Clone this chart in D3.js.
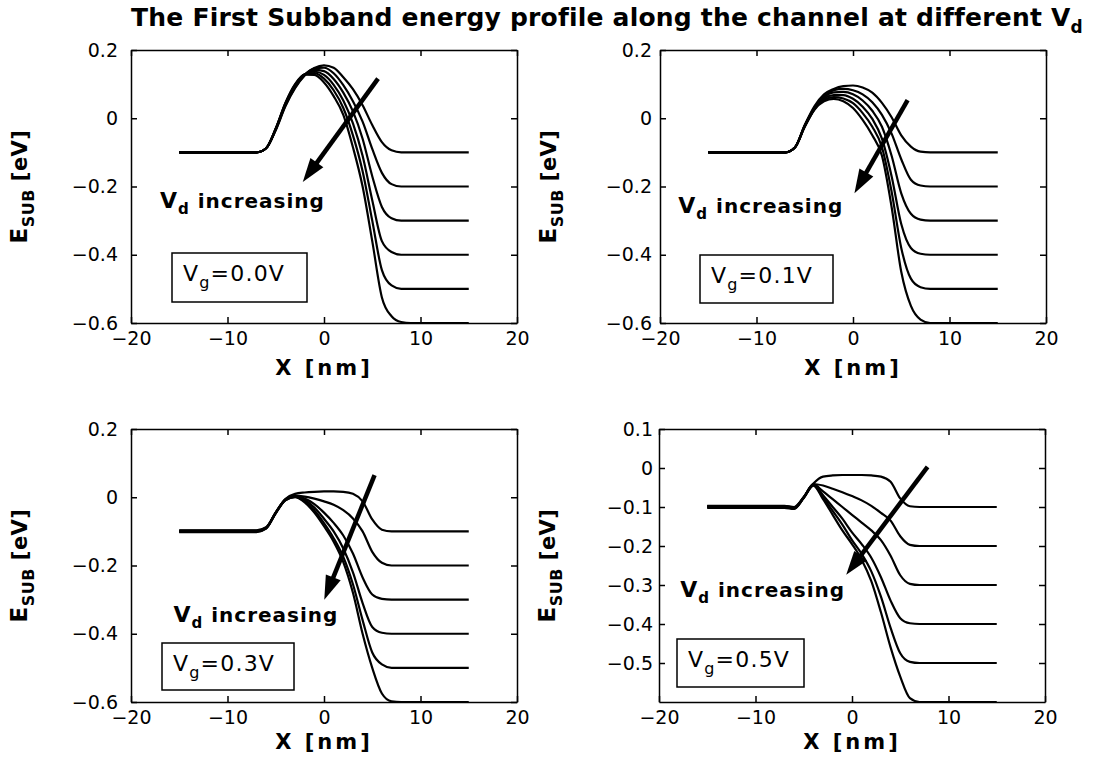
<!DOCTYPE html>
<html>
<head>
<meta charset="utf-8">
<script src="https://cdn.jsdelivr.net/npm/d3@7"></script>
<style>
  body { margin: 0; background: #fff; }
  svg { display: block; }
  .axis path, .axis line { stroke: #000; stroke-width: 1.5; }
  .axis text { font-family: "DejaVu Sans", sans-serif; font-size: 19px; fill: #000; }
</style>
</head>
<body>
<svg id="chart"></svg>
<script>
// positions along the channel (nm), shared by every curve
var xGrid = [-15, -7, -6, -5, -4, -3, -2, -1, 0, 1, 2, 3, 4, 5, 6, 7, 8, 9, 15];
var vdValues = [0.0, 0.1, 0.2, 0.3, 0.4, 0.5];
var vgLabels = ["0.0", "0.1", "0.3", "0.5"];

// first subband energy (eV), one row per Vd, Vg = 0.0 V
var esubVg00 = [
  [-0.1, -0.1, -0.088, -0.035, 0.035, 0.088, 0.125, 0.147, 0.155, 0.148, 0.12, 0.085, 0.038, -0.02, -0.07, -0.094, -0.1, -0.1, -0.1],
  [-0.1, -0.1, -0.088, -0.033, 0.037, 0.09, 0.127, 0.146, 0.148, 0.132, 0.097, 0.05, -0.01, -0.09, -0.16, -0.193, -0.2, -0.2, -0.2],
  [-0.1, -0.1, -0.088, -0.032, 0.04, 0.093, 0.128, 0.142, 0.138, 0.115, 0.075, 0.02, -0.06, -0.17, -0.26, -0.293, -0.3, -0.3, -0.3],
  [-0.1, -0.1, -0.088, -0.031, 0.042, 0.096, 0.129, 0.137, 0.127, 0.098, 0.052, -0.015, -0.11, -0.24, -0.36, -0.392, -0.4, -0.4, -0.4],
  [-0.1, -0.1, -0.088, -0.03, 0.044, 0.098, 0.129, 0.132, 0.116, 0.082, 0.03, -0.05, -0.155, -0.3, -0.445, -0.49, -0.5, -0.5, -0.5],
  [-0.1, -0.1, -0.088, -0.03, 0.045, 0.1, 0.128, 0.127, 0.105, 0.065, 0.01, -0.085, -0.2, -0.36, -0.525, -0.58, -0.597, -0.6, -0.6]
];
// Vg = 0.1 V
var esubVg01 = [
  [-0.1, -0.1, -0.085, -0.02, 0.035, 0.07, 0.086, 0.094, 0.096, 0.09, 0.075, 0.045, 0.003, -0.05, -0.083, -0.098, -0.1, -0.1, -0.1],
  [-0.1, -0.1, -0.085, -0.021, 0.031, 0.065, 0.082, 0.086, 0.082, 0.07, 0.047, 0.01, -0.045, -0.12, -0.18, -0.197, -0.2, -0.2, -0.2],
  [-0.1, -0.1, -0.085, -0.022, 0.028, 0.062, 0.076, 0.077, 0.07, 0.052, 0.022, -0.025, -0.11, -0.22, -0.28, -0.297, -0.3, -0.3, -0.3],
  [-0.1, -0.1, -0.085, -0.023, 0.027, 0.058, 0.068, 0.068, 0.057, 0.034, -0.002, -0.06, -0.17, -0.31, -0.38, -0.397, -0.4, -0.4, -0.4],
  [-0.1, -0.1, -0.085, -0.024, 0.026, 0.054, 0.062, 0.058, 0.044, 0.015, -0.025, -0.085, -0.215, -0.38, -0.47, -0.495, -0.5, -0.5, -0.5],
  [-0.1, -0.1, -0.085, -0.025, 0.025, 0.05, 0.057, 0.05, 0.03, -0.005, -0.05, -0.11, -0.26, -0.45, -0.55, -0.59, -0.6, -0.6, -0.6]
];
// Vg = 0.3 V
var esubVg03 = [
  [-0.097, -0.097, -0.088, -0.044, -0.005, 0.01, 0.014, 0.016, 0.017, 0.017, 0.016, 0.01, -0.012, -0.065, -0.095, -0.1, -0.1, -0.1, -0.1],
  [-0.098, -0.098, -0.089, -0.045, -0.006, 0.005, 0.002, -0.004, -0.012, -0.022, -0.038, -0.062, -0.1, -0.16, -0.192, -0.2, -0.2, -0.2, -0.2],
  [-0.099, -0.099, -0.09, -0.045, -0.007, 0.003, -0.004, -0.02, -0.045, -0.075, -0.112, -0.165, -0.235, -0.285, -0.298, -0.3, -0.3, -0.3, -0.3],
  [-0.1, -0.1, -0.09, -0.046, -0.008, 0.002, -0.008, -0.03, -0.063, -0.1, -0.15, -0.22, -0.31, -0.38, -0.397, -0.4, -0.4, -0.4, -0.4],
  [-0.101, -0.101, -0.091, -0.046, -0.008, 0.001, -0.012, -0.038, -0.076, -0.12, -0.175, -0.255, -0.36, -0.455, -0.49, -0.5, -0.5, -0.5, -0.5],
  [-0.102, -0.102, -0.092, -0.047, -0.009, 0.0, -0.015, -0.045, -0.085, -0.13, -0.19, -0.28, -0.4, -0.5, -0.575, -0.598, -0.6, -0.6, -0.6]
];
// Vg = 0.5 V
var esubVg05 = [
  [-0.097, -0.097, -0.1, -0.074, -0.04, -0.022, -0.019, -0.018, -0.018, -0.018, -0.019, -0.022, -0.035, -0.078, -0.098, -0.1, -0.1, -0.1, -0.1],
  [-0.098, -0.098, -0.101, -0.075, -0.041, -0.045, -0.053, -0.062, -0.072, -0.083, -0.097, -0.115, -0.135, -0.175, -0.197, -0.2, -0.2, -0.2, -0.2],
  [-0.099, -0.099, -0.102, -0.075, -0.042, -0.06, -0.08, -0.1, -0.12, -0.14, -0.16, -0.185, -0.225, -0.275, -0.297, -0.3, -0.3, -0.3, -0.3],
  [-0.1, -0.1, -0.103, -0.076, -0.043, -0.07, -0.1, -0.13, -0.165, -0.195, -0.23, -0.28, -0.34, -0.385, -0.398, -0.4, -0.4, -0.4, -0.4],
  [-0.101, -0.101, -0.104, -0.076, -0.044, -0.075, -0.11, -0.145, -0.185, -0.22, -0.265, -0.33, -0.41, -0.475, -0.497, -0.5, -0.5, -0.5, -0.5],
  [-0.102, -0.102, -0.105, -0.077, -0.045, -0.08, -0.12, -0.16, -0.195, -0.235, -0.29, -0.37, -0.46, -0.535, -0.59, -0.6, -0.6, -0.6, -0.6]
];

var xTicks = [-20, -10, 0, 10, 20];
var xTickLabels = ["\u221220", "\u221210", "0", "10", "20"];
var yTicksA = [0.2, 0, -0.2, -0.4, -0.6];
var yTickLabelsA = ["0.2", "0", "\u22120.2", "\u22120.4", "\u22120.6"];
var yTicksB = [0.1, 0, -0.1, -0.2, -0.3, -0.4, -0.5];
var yTickLabelsB = ["0.1", "0", "\u22120.1", "\u22120.2", "\u22120.3", "\u22120.4", "\u22120.5"];

var width = 1097, height = 764;
var plotW = 386, plotH = 273;

// layout of the four subplots and their annotations
var panels = [
  {curves: esubVg00, vg: vgLabels[0], left: 131, top: 50, yDomain: [-0.6, 0.2], yTicks: yTicksA, yLabels: yTickLabelsA,
   tickPad: 13, xLabelDy: 52, arrowFrom: [5.6, 0.116], arrowTo: [-2.2, -0.187], note: [-17.0, -0.264], box: [41, 203, 135, 49]},
  {curves: esubVg01, vg: vgLabels[1], left: 660, top: 50, yDomain: [-0.6, 0.2], yTicks: yTicksA, yLabels: yTickLabelsA,
   tickPad: 8, xLabelDy: 52, arrowFrom: [5.66, 0.053], arrowTo: [0.15, -0.22], note: [-18.1, -0.278], box: [40, 205, 133, 48]},
  {curves: esubVg03, vg: vgLabels[2], left: 131, top: 429, yDomain: [-0.6, 0.2], yTicks: yTicksA, yLabels: yTickLabelsA,
   tickPad: 13, xLabelDy: 47, arrowFrom: [5.24, 0.065], arrowTo: [0.03, -0.30], note: [-15.6, -0.365], box: [31, 214, 132, 47]},
  {curves: esubVg05, vg: vgLabels[3], left: 659, top: 429, yDomain: [-0.6, 0.1], yTicks: yTicksB, yLabels: yTickLabelsB,
   tickPad: 6, xLabelDy: 47, arrowFrom: [7.83, 0.003], arrowTo: [-0.6, -0.274], note: [-17.8, -0.33], box: [18, 210, 127, 48]}
];

var svg = d3.select('#chart')
    .attr('width', width)
    .attr('height', height);

svg.append('rect').attr('width', width).attr('height', height).attr('fill', '#fff');

var boldFont = '"DejaVu Sans", sans-serif';

panels.forEach(function(p) {
  var g = svg.append('g').attr('transform', 'translate(' + p.left + ',' + p.top + ')');

  var x = d3.scaleLinear().domain([-20, 20]).range([0, plotW]);
  var y = d3.scaleLinear().domain(p.yDomain).range([plotH, 0]);

  // axes, ticks pointing inward on all four sides (box on)
  g.append('g').attr('class', 'axis')
    .attr('transform', 'translate(0,' + plotH + ')')
    .call(d3.axisBottom(x).tickValues(xTicks)
      .tickFormat(function(d, i) { return xTickLabels[i]; })
      .tickSizeInner(-6).tickSizeOuter(0).tickPadding(9));
  g.append('g').attr('class', 'axis')
    .call(d3.axisTop(x).tickValues(xTicks).tickFormat(function() { return ''; })
      .tickSizeInner(-6).tickSizeOuter(0));
  g.append('g').attr('class', 'axis')
    .call(d3.axisLeft(y).tickValues(p.yTicks)
      .tickFormat(function(d, i) { return p.yLabels[i]; })
      .tickSizeInner(-6).tickSizeOuter(0).tickPadding(p.tickPad));
  g.append('g').attr('class', 'axis')
    .attr('transform', 'translate(' + plotW + ',0)')
    .call(d3.axisRight(y).tickValues(p.yTicks).tickFormat(function() { return ''; })
      .tickSizeInner(-6).tickSizeOuter(0));

  // subband curves, one per Vd
  var line = d3.line()
    .x(function(d, i) { return x(xGrid[i]); })
    .y(function(d) { return y(d); })
    .curve(d3.curveMonotoneX);

  g.selectAll('path.curve')
    .data(p.curves)
    .enter()
    .append('path')
    .attr('class', 'curve')
    .attr('d', line)
    .attr('fill', 'none')
    .attr('stroke', '#000')
    .attr('stroke-width', 2.2);

  // "Vd increasing" arrow
  var x0 = x(p.arrowFrom[0]), y0 = y(p.arrowFrom[1]);
  var x1 = x(p.arrowTo[0]), y1 = y(p.arrowTo[1]);
  var ang = Math.atan2(y1 - y0, x1 - x0), headLen = 24, headW = 8;
  var c = Math.cos(ang), s = Math.sin(ang);
  var bx = x1 - headLen * c, by = y1 - headLen * s;
  g.append('line')
    .attr('x1', x0).attr('y1', y0)
    .attr('x2', bx + 4 * c).attr('y2', by + 4 * s)
    .attr('stroke', '#000').attr('stroke-width', 4.5);
  g.append('path')
    .attr('d', 'M' + x1 + ',' + y1 +
               'L' + (bx - headW * s) + ',' + (by + headW * c) +
               'L' + (bx + headW * s) + ',' + (by - headW * c) + 'Z')
    .attr('fill', '#000');

  var note = g.append('text')
    .attr('x', x(p.note[0])).attr('y', y(p.note[1]))
    .attr('font-family', boldFont).attr('font-weight', 'bold')
    .attr('font-size', 20).attr('letter-spacing', 1);
  note.append('tspan').attr('font-size', 22).text('V');
  note.append('tspan').attr('dy', 6).attr('font-size', 15).text('d');
  note.append('tspan').attr('dy', -6).text(' increasing');

  // Vg box
  var bg = g.append('g').attr('transform', 'translate(' + p.box[0] + ',' + p.box[1] + ')');
  bg.append('rect')
    .attr('width', p.box[2]).attr('height', p.box[3])
    .attr('fill', '#fff').attr('stroke', '#000').attr('stroke-width', 1.5);
  var bt = bg.append('text')
    .attr('x', 11).attr('y', 28)
    .attr('font-family', boldFont).attr('font-size', 22).attr('letter-spacing', 1.2);
  bt.append('tspan').text('V');
  bt.append('tspan').attr('dy', 7).attr('font-size', 16).text('g');
  bt.append('tspan').attr('dy', -7).text('=' + p.vg + 'V');

  // axis labels
  g.append('text')
    .attr('x', plotW / 2).attr('y', plotH + p.xLabelDy)
    .attr('text-anchor', 'middle')
    .attr('font-family', boldFont).attr('font-weight', 'bold')
    .attr('font-size', 21).attr('letter-spacing', 3)
    .text('X [nm]');

  var yl = g.append('text')
    .attr('transform', 'translate(-104,' + (plotH / 2) + ') rotate(-90)')
    .attr('text-anchor', 'middle')
    .attr('font-family', boldFont).attr('font-weight', 'bold')
    .attr('font-size', 21).attr('letter-spacing', 0.5);
  yl.append('tspan').attr('font-size', 23).text('E');
  yl.append('tspan').attr('dy', 7).attr('font-size', 16).text('SUB');
  yl.append('tspan').attr('dy', -7).text(' [eV]');
});

// overall title
var title = svg.append('text')
  .attr('x', 607).attr('y', 26)
  .attr('text-anchor', 'middle')
  .attr('font-family', boldFont).attr('font-weight', 'bold')
  .attr('font-size', 25).attr('letter-spacing', 0.2);
title.append('tspan').text('The First Subband energy profile along the channel at different V');
title.append('tspan').attr('dy', 7).attr('font-size', 17).text('d');
</script>
</body>
</html>
